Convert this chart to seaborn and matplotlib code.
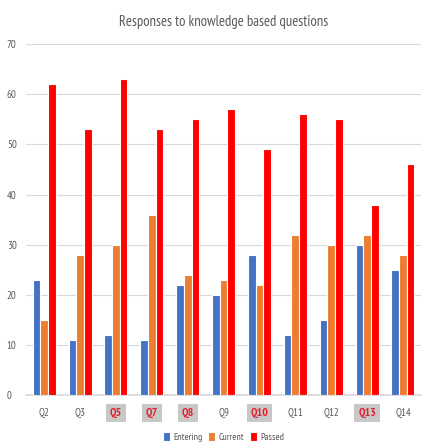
import matplotlib
matplotlib.use("Agg")
import matplotlib.pyplot as plt
import seaborn as sns
import pandas as pd

questions = ["Q2", "Q3", "Q5", "Q7", "Q8", "Q9", "Q10", "Q11", "Q12", "Q13", "Q14"]
entering = [23, 11, 12, 11, 22, 20, 28, 12, 15, 30, 25]
current = [15, 28, 30, 36, 24, 23, 22, 32, 30, 32, 28]
passed = [62, 53, 63, 53, 55, 57, 49, 56, 55, 38, 46]
highlighted = ["Q5", "Q7", "Q8", "Q10", "Q13"]
series = ["Entering", "Current", "Passed"]
palette = ["#4472C4", "#ED7D31", "#FF0000"]

df = pd.DataFrame({
    "Question": questions * 3,
    "Series": [s for s in series for _ in questions],
    "Value": entering + current + passed,
})

sns.set_theme(style="white")
plt.rcParams["font.family"] = ["PT Sans Narrow", "DejaVu Sans"]

fig = plt.figure(figsize=(4.23, 4.45), dpi=100)
ax = fig.add_axes([0.062, 0.112, 0.933, 0.789])

sns.barplot(data=df, x="Question", y="Value", hue="Series", palette=palette,
            width=0.64, edgecolor="white", linewidth=0.8, saturation=1,
            ax=ax, zorder=3)

ax.set_ylim(0, 70)
ax.set_yticks(range(0, 71, 10))
ax.set_xlim(-0.5, len(questions) - 0.5)
ax.yaxis.grid(True, color="#D9D9D9", linewidth=0.8, zorder=0)
ax.set_xlabel("")
ax.set_ylabel("")
for s in ["top", "right", "left"]:
    ax.spines[s].set_visible(False)
ax.spines["bottom"].set_color("#D9D9D9")
ax.tick_params(axis="both", length=0, labelsize=7.8, colors="#595959")
ax.tick_params(axis="x", pad=9)
ax.tick_params(axis="y", pad=14)
for lbl in ax.get_yticklabels():
    lbl.set_horizontalalignment("left")

for lbl in ax.get_xticklabels():
    if lbl.get_text() in highlighted:
        lbl.set_color("#E0222B")
        lbl.set_fontweight("bold")
        lbl.set_fontsize(8.5)
        lbl.set_bbox(dict(facecolor="#C8C8C8", edgecolor="none", pad=2.8))

ax.set_title("Responses to knowledge based questions", fontsize=10.5,
             color="#595959", pad=13)

handles, labels = ax.get_legend_handles_labels()
ax.legend(handles, labels, loc="upper center", bbox_to_anchor=(0.5, -0.08),
          ncol=3, frameon=False, fontsize=7.2, handlelength=0.7,
          handleheight=0.9, handletextpad=0.3, columnspacing=0.6,
          labelcolor="#595959")

fig.savefig("out.png", dpi=100)
